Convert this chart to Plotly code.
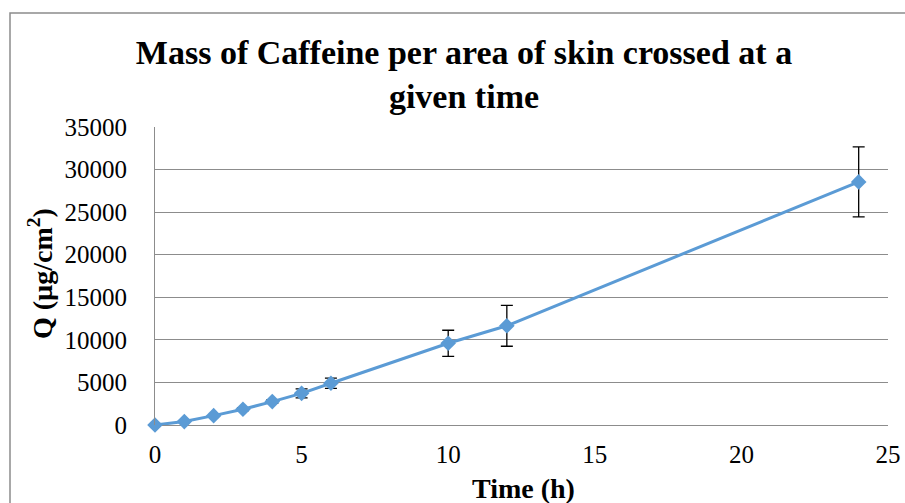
import plotly.graph_objects as go

time_h = [0, 1, 2, 3, 4, 5, 6, 10, 12, 24]
q_values = [0, 400, 1100, 1850, 2750, 3720, 4900, 9600, 11650, 28550]
q_errors = [0, 0, 0, 150, 200, 530, 600, 1530, 2400, 4110]
x_ticks = [0, 5, 10, 15, 20, 25]
y_ticks = [0, 5000, 10000, 15000, 20000, 25000, 30000, 35000]

W, H = 905, 503
L, R, T, B = 155, 888, 127, 425

fig = go.Figure()
fig.add_trace(go.Scatter(
    x=time_h, y=q_values, mode="lines+markers",
    line=dict(color="#5B9BD5", width=3),
    marker=dict(symbol="diamond", size=12, color="#5B9BD5"),
    error_y=dict(type="data", array=q_errors, visible=True,
                 color="black", thickness=1.3, width=6),
    showlegend=False, cliponaxis=False,
))

font = "Liberation Serif, Times New Roman, serif"
fig.update_layout(
    width=W, height=H,
    margin=dict(l=L, r=W - R, t=T, b=H - B, autoexpand=False),
    paper_bgcolor="white", plot_bgcolor="white",
    font=dict(family=font, color="black"),
    title=dict(
        text="<b>Mass of Caffeine per area of skin crossed at a<br>given time</b>",
        font=dict(family=font, size=34, color="black"),
        x=464 / W, xanchor="center", xref="container",
        y=1 - 64 / H, yanchor="middle", yref="container",
    ),
    xaxis=dict(
        range=[0, 25], tickvals=x_ticks, showgrid=False, zeroline=False,
        showline=False, ticks="", tickfont=dict(size=25, family=font),
        ticklabelstandoff=12, automargin=False,
    ),
    yaxis=dict(
        range=[0, 35000], tickvals=y_ticks, tickformat="d",
        showgrid=True, gridcolor="#8c8c8c",
        gridwidth=1, zeroline=True, zerolinecolor="#8c8c8c", zerolinewidth=1,
        showline=True, linecolor="#8c8c8c", linewidth=1, ticks="",
        tickfont=dict(size=25, family=font), ticklabelstandoff=22,
        automargin=False,
    ),
    annotations=[
        dict(text="<b>Time (h)</b>", xref="paper", yref="paper",
             x=(523 - L) / (R - L), y=(B - 488) / (B - T),
             xanchor="center", yanchor="middle", showarrow=False,
             font=dict(size=28, family=font, color="black")),
        dict(text="<b>Q (µg/cm<sup>2</sup>)</b>", xref="paper", yref="paper",
             x=(40 - L) / (R - L), y=(B - 274) / (B - T), textangle=-90,
             xanchor="center", yanchor="middle", showarrow=False,
             font=dict(size=28, family=font, color="black")),
    ],
    shapes=[
        dict(type="rect", xref="paper", yref="paper",
             x0=(10 - L) / (R - L), x1=(W + 20 - L) / (R - L),
             y0=(B - (H + 20)) / (B - T), y1=(B - 13) / (B - T),
             line=dict(color="#8c8c8c", width=1.5), layer="below"),
    ],
)

fig.write_html(
    "out.html",
    config={"displayModeBar": False},
    post_script="document.body.style.margin='0';document.body.style.padding='0';",
)
